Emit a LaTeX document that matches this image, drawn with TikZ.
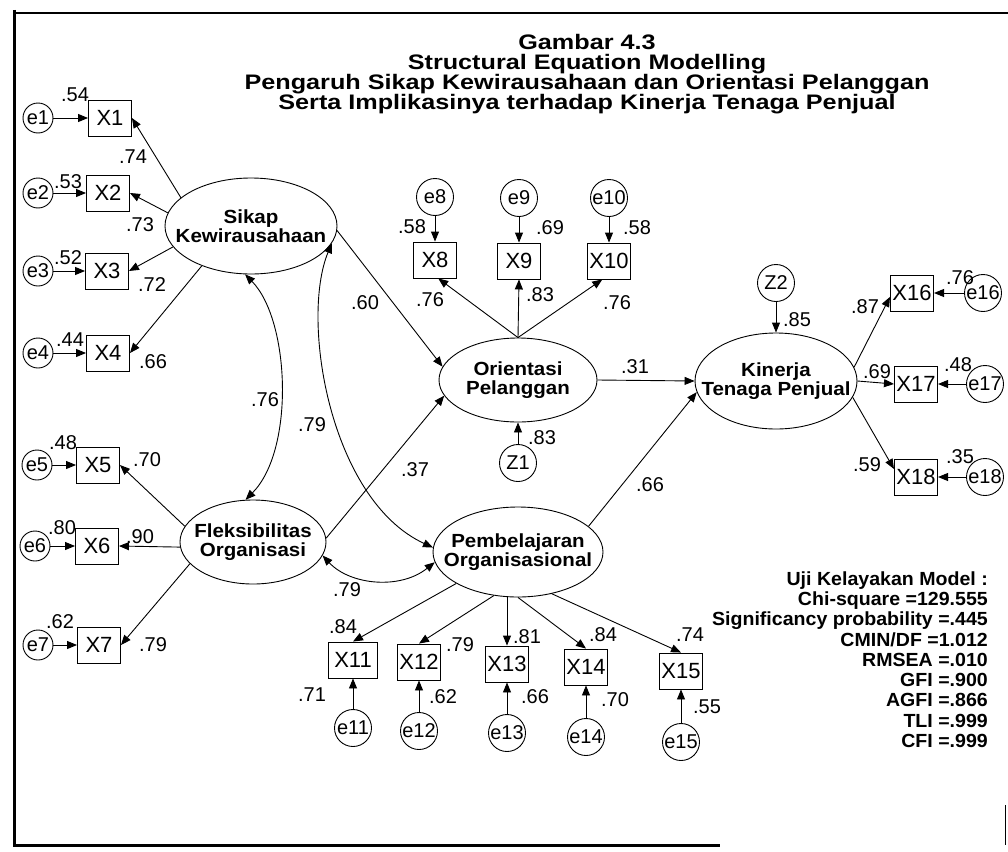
\documentclass[tikz,border=0pt]{standalone}
\usepackage{fontspec}
\setmainfont{Liberation Sans}
\newfontfamily\ttlfont[FakeStretch=1.2]{Liberation Sans}
\newfontfamily\latfont[FakeStretch=1.08]{Liberation Sans}
\newfontfamily\fitfont[FakeStretch=1.03]{Liberation Sans}
\usetikzlibrary{shapes.geometric,arrows.meta,calc}
\begin{document}
\begin{tikzpicture}[x=1pt,y=-1pt,
  latent/.style={ellipse,draw,line width=0.9pt,inner sep=0pt},
  lattext/.style={inner sep=0pt,align=center,font=\latfont\bfseries\fontsize{19}{18.5}\selectfont},
  obs/.style={rectangle,draw,line width=0.9pt,minimum width=43pt,minimum height=36pt,inner sep=2pt,font=\fontsize{22}{22}\selectfont},
  err/.style={circle,draw,line width=0.9pt,minimum size=37pt,inner sep=0pt,font=\fontsize{20}{20}\selectfont},
  errs/.style={err,minimum size=30pt},
  lab/.style={inner sep=0pt,font=\fontsize{20}{20}\selectfont},
  ttl/.style={inner sep=0pt,anchor=base,font=\ttlfont\bfseries\fontsize{21}{21}\selectfont},
  fitstat/.style={inner sep=0pt,anchor=base east,font=\fitfont\bfseries\fontsize{19}{19}\selectfont},
  arr/.style={line width=0.9pt,-{Triangle[length=10pt,width=8pt]}},
  cov/.style={line width=0.9pt,{Triangle[length=10pt,width=8pt]}-{Triangle[length=10pt,width=8pt]}},
]
\useasboundingbox (0,0) rectangle (1008,851);
\fill[white] (0,0) rectangle (1008,851);

% frame
\draw[line width=3pt] (14,10) -- (14,847);
\draw[line width=2.5pt] (13,13) -- (1008,13);
\draw[line width=3pt] (13,845) -- (720,845);
\draw[line width=1pt] (1005,805) -- (1005,845);

% title
\node[ttl] (t1) at (587,49) {Gambar 4.3};
\node[ttl] (t2) at (587,69) {Structural Equation Modelling};
\node[ttl] (t3) at (587,89.5) {Pengaruh Sikap Kewirausahaan dan Orientasi Pelanggan};
\node[ttl] (t4) at (587,109.5) {Serta Implikasinya terhadap Kinerja Tenaga Penjual};

% latent variables
\node[latent,minimum width=172pt,minimum height=96pt] (SK) at (251,226) {};
\node[lattext] (SKt) at (SK) {Sikap\\Kewirausahaan};
\node[latent,minimum width=146pt,minimum height=84pt] (FO) at (253,542) {};
\node[lattext] (FOt) at (FO) {Fleksibilitas\\Organisasi};
\node[latent,minimum width=158pt,minimum height=84pt] (OP) at (518,380) {};
\node[lattext] (OPt) at (OP) {Orientasi\\Pelanggan};
\node[latent,minimum width=162pt,minimum height=96pt] (KT) at (776,381) {};
\node[lattext] (KTt) at (KT) {Kinerja\\Tenaga Penjual};
\node[latent,minimum width=170pt,minimum height=90pt] (PO) at (518,552) {};
\node[lattext] (POt) at (PO) {Pembelajaran\\Organisasional};

% observed variables
\node[obs] (X1) at (110,118) {X1};
\node[obs] (X2) at (108,193) {X2};
\node[obs] (X3) at (107,271) {X3};
\node[obs] (X4) at (108,353) {X4};
\node[obs] (X5) at (98,465) {X5};
\node[obs] (X6) at (97,546) {X6};
\node[obs] (X7) at (99,645) {X7};
\node[obs] (X8) at (435,260) {X8};
\node[obs] (X9) at (519,261) {X9};
\node[obs] (X10) at (609,261) {X10};
\node[obs,minimum width=49pt] (X11) at (353,660) {X11};
\node[obs] (X12) at (419,662) {X12};
\node[obs] (X13) at (507,664) {X13};
\node[obs] (X14) at (586,667) {X14};
\node[obs] (X15) at (681,671) {X15};
\node[obs] (X16) at (912,293) {X16};
\node[obs] (X17) at (916,384) {X17};
\node[obs] (X18) at (916,477) {X18};

% errors
\node[errs] (e1) at (38,118) {e1};
\node[errs] (e2) at (38,193) {e2};
\node[errs] (e3) at (38,271) {e3};
\node[errs] (e4) at (38,353) {e4};
\node[errs] (e5) at (37,465) {e5};
\node[errs] (e6) at (35,546) {e6};
\node[errs] (e7) at (38,645) {e7};
\node[err] (e8) at (435,197) {e8};
\node[err] (e9) at (519,198) {e9};
\node[err] (e10) at (609,198) {e10};
\node[err] (e11) at (353,728) {e11};
\node[err] (e12) at (419,731) {e12};
\node[err] (e13) at (507,733) {e13};
\node[err] (e14) at (586,737) {e14};
\node[err] (e15) at (681,742) {e15};
\node[err] (e16) at (983,293) {e16};
\node[err] (e17) at (985,384) {e17};
\node[err] (e18) at (985,477) {e18};
\node[err] (Z1) at (518,463) {Z1};
\node[err] (Z2) at (776,283) {Z2};

% error arrows
\foreach \i in {1,...,18} {\draw[arr] (e\i) -- (X\i);}
\draw[arr] (Z1) -- (OP);
\draw[arr] (Z2) -- (KT);

% loadings
\draw[arr] (SK.158) -- (X1.east);
\draw[arr] (SK.171) -- (X2.east);
\draw[arr] (SK.195) -- (X3.east);
\draw[arr] (SK.219) -- (X4.east);
\draw[arr] (FO.167) -- (X5.east);
\draw[arr] (FO.184) -- (X6.east);
\draw[arr] (FO.199) -- (X7.east);
\draw[arr] (OP.north) -- (X8.-80);
\draw[arr] (OP.north) -- (X9.south);
\draw[arr] (OP.north) -- (X10.-110);
\draw[arr] (PO.207) -- (X11.north);
\draw[arr] (PO.241) -- (X12.north);
\draw[arr] (PO.south -| X13.north) -- (X13.north);
\draw[arr] (PO.south) -- (X14.north);
\draw[arr] (PO.309) -- (X15.north);
\draw[arr] (KT.10) -- (X16.190);
\draw[arr] (KT.east) -- (X17.west);
\draw[arr] (KT.-12) -- (X18.160);

% structural paths
\draw[arr] (SK.-3) -- (OP.170);
\draw[arr] (FO.3) -- (OP.192);
\draw[arr] (OP.east) -- (KT.west);
\draw[arr] (PO.20) -- (KT.188);

% covariances
\draw[cov] (SK.263) .. controls (290,320) and (295,450) .. (FO.100);
\draw[cov] (SK.348) .. controls (300,320) and (330,500) .. (PO.177);
\draw[cov] (FO.349) .. controls (350,585) and (400,590) .. (PO.187);

% coefficient labels
\foreach \x/\y/\t [count=\i] in {
 75/95/.54, 68/182/.53, 68/258/.52, 70/340/.44,
 133/157/.74, 140/225/.73, 152/285/.72, 153/362/.66,
 63/443/.48, 147/460/.70, 62/528/.80, 140/537/.90, 60/622/.62, 153/645/.79,
 265/400/.76, 312/425/.79, 365/303/.60, 415/470/.37, 347/590/.79,
 412/227/.58, 550/228/.69, 637/228/.58, 430/300/.76, 540/295/.83, 617/303/.76,
 542/438/.83, 635/367/.31, 797/320/.85,
 960/278/.76, 865/307/.87, 958/365/.48, 877/372/.69, 960/457/.35, 867/465/.59,
 650/485/.66,
 343/627/.84, 460/645/.79, 527/637/.81, 603/635/.84, 690/635/.74,
 312/695/.71, 443/697/.62, 535/697/.66, 615/700/.70, 707/707/.55}
 {\node[lab] (lab\i) at (\x,\y) {\t};}

% fit statistics
\foreach \t [count=\i] in {Uji Kelayakan Model :, Chi-square =129.555,
  Significancy probability =.445, CMIN/DF =1.012, RMSEA =.010,
  GFI =.900, AGFI =.866, TLI =.999, CFI =.999}
 {\node[fitstat] (fit\i) at ({988},{565.15+20.25*\i}) {\t};}
\end{tikzpicture}
\end{document}
